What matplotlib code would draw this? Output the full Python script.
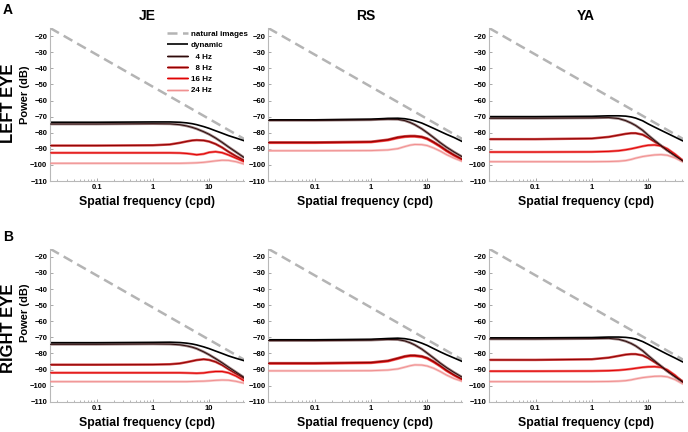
import matplotlib
matplotlib.use("Agg")
import matplotlib.pyplot as plt
from matplotlib.legend_handler import HandlerTuple
from matplotlib.ticker import FixedLocator, LogLocator, NullFormatter

plt.rcParams['font.family'] = ['Liberation Sans', 'DejaVu Sans']
plt.rcParams['font.weight'] = 'bold'

# spatial frequency samples (cpd)
freqs = [0.015, 0.1, 1, 2, 3, 4, 5, 6, 8, 10, 13, 17, 22, 30, 42]

# natural image spectrum (dashed reference), end points
nat_freqs = [0.015, 42]
nat_power = [-15.0, -83.9]

subjects = ['JE', 'RS', 'YA']
series = ['dynamic', '4 Hz', '8 Hz', '16 Hz', '24 Hz']

# LEFT EYE
je_left = {
    'dynamic': [-73.5, -73.5, -73.3, -73.3, -73.5, -73.9, -74.4, -75.0, -76.2, -77.3, -78.8, -80.3, -81.8, -83.3, -85.0],
    '4 Hz':    [-74.6, -74.6, -74.4, -74.5, -75.0, -75.8, -76.7, -77.6, -79.4, -81.0, -83.3, -86.0, -88.8, -92.0, -95.5],
    '8 Hz':    [-88.0, -88.0, -87.8, -87.3, -86.3, -85.4, -84.8, -84.6, -84.8, -85.5, -87.0, -89.2, -91.8, -94.6, -97.3],
    '16 Hz':   [-92.5, -92.5, -92.5, -92.5, -92.6, -92.9, -93.3, -93.7, -93.2, -92.2, -91.8, -92.4, -93.8, -95.8, -98.0],
    '24 Hz':   [-99.0, -99.0, -99.0, -99.0, -99.0, -98.9, -98.8, -98.7, -98.4, -98.0, -97.5, -97.1, -97.2, -98.0, -99.5],
}
rs_left = {
    'dynamic': [-72.0, -72.0, -71.6, -71.1, -71.0, -71.3, -71.9, -72.6, -74.0, -75.5, -77.3, -79.2, -81.0, -83.0, -85.5],
    '4 Hz':    [-72.3, -72.3, -72.0, -71.6, -71.7, -72.5, -73.7, -75.0, -77.6, -80.0, -83.0, -86.2, -89.0, -92.0, -95.0],
    '8 Hz':    [-86.0, -86.0, -85.6, -84.3, -82.8, -82.2, -82.0, -82.0, -82.5, -83.6, -85.8, -88.3, -91.0, -93.8, -96.5],
    '16 Hz':   [-86.3, -86.3, -85.9, -84.7, -83.3, -82.6, -82.4, -82.4, -82.9, -84.0, -86.2, -88.7, -91.4, -94.2, -96.8],
    '24 Hz':   [-91.2, -91.2, -91.1, -90.7, -89.9, -88.6, -87.7, -87.3, -87.4, -88.0, -89.5, -91.4, -93.6, -95.8, -97.8],
}
ya_left = {
    'dynamic': [-70.0, -70.0, -69.8, -69.5, -69.5, -69.7, -70.2, -70.9, -72.6, -74.5, -76.5, -78.5, -80.4, -82.7, -85.2],
    '4 Hz':    [-71.0, -71.0, -70.8, -70.6, -71.2, -72.5, -74.0, -75.5, -78.5, -81.5, -84.8, -88.0, -91.0, -94.3, -97.8],
    '8 Hz':    [-84.0, -84.0, -83.6, -82.6, -81.5, -80.7, -80.3, -80.3, -81.2, -83.0, -85.5, -88.2, -91.0, -94.0, -97.5],
    '16 Hz':   [-92.0, -92.0, -91.9, -91.6, -91.2, -90.6, -90.0, -89.4, -88.4, -87.8, -87.6, -88.2, -90.0, -93.3, -97.5],
    '24 Hz':   [-98.0, -98.0, -98.0, -97.9, -97.7, -97.3, -96.6, -95.8, -94.8, -94.3, -93.8, -93.6, -94.0, -95.6, -98.2],
}

# RIGHT EYE
je_right = {
    'dynamic': [-73.3, -73.3, -73.1, -73.0, -73.2, -73.6, -74.1, -74.7, -75.9, -77.0, -78.5, -80.0, -81.5, -83.0, -84.5],
    '4 Hz':    [-74.3, -74.3, -74.1, -74.2, -74.6, -75.3, -76.1, -77.0, -79.0, -80.8, -83.2, -85.8, -88.5, -91.6, -95.0],
    '8 Hz':    [-87.0, -87.0, -86.9, -86.7, -86.2, -85.4, -84.7, -84.1, -83.6, -84.0, -85.2, -87.2, -89.7, -92.5, -95.5],
    '16 Hz':   [-92.0, -92.0, -92.0, -92.0, -92.0, -92.1, -92.2, -92.3, -92.1, -91.6, -91.2, -91.2, -92.0, -94.0, -97.0],
    '24 Hz':   [-97.5, -97.5, -97.5, -97.5, -97.5, -97.5, -97.4, -97.3, -97.2, -97.0, -96.7, -96.5, -96.6, -97.3, -98.5],
}
rs_right = {
    'dynamic': [-71.5, -71.5, -71.2, -70.7, -70.5, -70.8, -71.4, -72.1, -73.6, -75.0, -77.0, -79.0, -80.8, -82.8, -85.0],
    '4 Hz':    [-72.0, -72.0, -71.7, -71.3, -71.4, -72.2, -73.4, -74.7, -77.3, -79.8, -82.8, -86.0, -88.8, -91.8, -94.8],
    '8 Hz':    [-86.0, -86.0, -85.6, -84.5, -82.9, -81.7, -81.2, -81.2, -81.7, -82.8, -85.0, -87.6, -90.4, -93.3, -96.0],
    '16 Hz':   [-86.3, -86.3, -85.9, -84.9, -83.3, -82.1, -81.6, -81.6, -82.1, -83.2, -85.4, -88.0, -90.8, -93.6, -96.3],
    '24 Hz':   [-90.8, -90.8, -90.7, -90.3, -89.6, -88.5, -87.6, -87.1, -87.2, -87.8, -89.2, -91.2, -93.4, -95.6, -97.3],
}
ya_right = {
    'dynamic': [-70.3, -70.3, -70.1, -69.8, -69.8, -70.0, -70.4, -71.0, -72.6, -74.3, -76.4, -78.5, -80.5, -82.8, -85.4],
    '4 Hz':    [-71.0, -71.0, -70.8, -70.6, -71.2, -72.4, -73.8, -75.3, -78.3, -81.3, -84.6, -87.9, -91.0, -94.4, -98.0],
    '8 Hz':    [-84.0, -84.0, -83.6, -82.6, -81.5, -80.7, -80.4, -80.4, -81.2, -82.8, -85.3, -88.0, -91.0, -94.2, -97.5],
    '16 Hz':   [-91.0, -91.0, -90.9, -90.7, -90.4, -90.0, -89.6, -89.2, -88.6, -88.3, -88.2, -88.6, -90.2, -93.5, -98.0],
    '24 Hz':   [-97.5, -97.5, -97.5, -97.4, -97.2, -96.9, -96.4, -95.8, -95.0, -94.6, -94.2, -94.1, -94.5, -96.2, -99.0],
}

rows = [[je_left, rs_left, ya_left], [je_right, rs_right, ya_right]]

# (outer colour, outer width, core colour, core width)
styles = {
    'dynamic': ('#000000', 1.2, '#000000', 0.0),
    '4 Hz':    ('#9a8282', 1.9, '#2a0808', 0.7),
    '8 Hz':    ('#d04848', 1.8, '#8c0000', 0.7),
    '16 Hz':   ('#f06a6a', 1.8, '#e00000', 0.7),
    '24 Hz':   ('#f8c6c6', 1.8, '#f09090', 0.7),
}

fig = plt.figure(figsize=(6.88, 4.32), dpi=100)

lefts = [0.073, 0.390, 0.711]
bottoms = [0.581, 0.07]
w, h = 0.282, 0.354

for r, row in enumerate(rows):
    for c, panel in enumerate(row):
        ax = fig.add_axes([lefts[c], bottoms[r], w, h])
        ax.set_xscale('log')
        nat, = ax.plot(nat_freqs, nat_power, color='#b4b4b4', lw=1.8,
                       dashes=(4, 2.2), zorder=1)
        handles = [nat]
        for s in series[::-1]:
            oc, ow, ic, iw = styles[s]
            l1, = ax.plot(freqs, panel[s], color=oc, lw=ow,
                          solid_capstyle='butt', zorder=2)
            if iw > 0:
                l2, = ax.plot(freqs, panel[s], color=ic, lw=iw, zorder=3)
                handles.insert(1, (l1, l2))
            else:
                handles.insert(1, l1)
        ax.set_xlim(0.015, 42)
        ax.set_ylim(-110, -15)
        ax.yaxis.set_major_locator(FixedLocator(range(-110, -19, 10)))
        ax.set_yticklabels([f'\u2212{abs(v)}' for v in range(-110, -19, 10)])
        ax.xaxis.set_major_locator(FixedLocator([0.1, 1, 10]))
        ax.set_xticklabels(['0.1', '1', '10'])
        ax.xaxis.set_minor_locator(LogLocator(base=10, subs=range(2, 10)))
        ax.xaxis.set_minor_formatter(NullFormatter())
        for sp in ['top', 'right']:
            ax.spines[sp].set_visible(False)
        for sp in ['left', 'bottom']:
            ax.spines[sp].set_color('#b8b8b8')
            ax.spines[sp].set_linewidth(0.8)
        ax.tick_params(which='major', direction='in', length=2.5, width=0.6,
                       color='#999999', labelsize=5.5, pad=2)
        ax.tick_params(which='minor', direction='in', length=1.5, width=0.5,
                       color='#999999')
        for lab in ax.get_xticklabels() + ax.get_yticklabels():
            lab.set_fontweight('bold')
        ax.set_xlabel('Spatial frequency (cpd)', fontsize=8.8, fontweight='bold',
                      labelpad=4)
        if r == 0:
            ax.set_title(subjects[c], fontsize=10, fontweight='bold', pad=5.5)
        if r == 0 and c == 0:
            labels = ['natural images', 'dynamic', '  4 Hz', '  8 Hz', '16 Hz', '24 Hz']
            ax.legend(handles, labels, handler_map={tuple: HandlerTuple(ndivide=1)},
                      loc='upper left', bbox_to_anchor=(0.60, 0.985), frameon=False,
                      fontsize=5.8, handlelength=2.7, handletextpad=0.3,
                      labelspacing=0.45, borderaxespad=0, borderpad=0)

fig.text(0.004, 0.977, 'A', fontsize=10, fontweight='bold', va='center')
fig.text(0.004, 0.452, 'B', fontsize=10, fontweight='bold', va='center')
fig.text(0.012, 0.762, 'LEFT EYE', rotation=90, fontsize=12, fontweight='bold',
         ha='center', va='center')
fig.text(0.012, 0.24, 'RIGHT EYE', rotation=90, fontsize=12, fontweight='bold',
         ha='center', va='center')
fig.text(0.036, 0.78, 'Power (dB)', rotation=90, fontsize=8, fontweight='bold',
         ha='center', va='center')
fig.text(0.036, 0.275, 'Power (dB)', rotation=90, fontsize=8, fontweight='bold',
         ha='center', va='center')

fig.savefig('out.png', dpi=100)
